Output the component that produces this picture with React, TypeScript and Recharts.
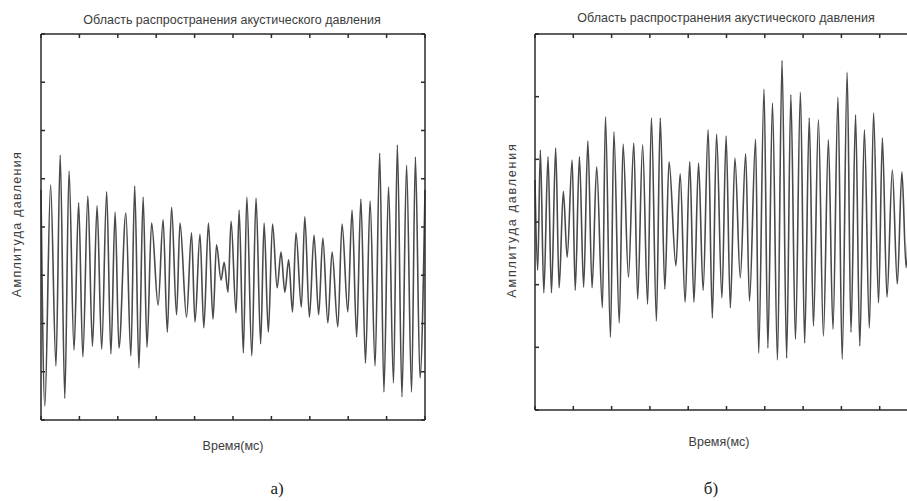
import { Line, LineChart, XAxis, YAxis } from "recharts";

const titleText = "Область распространения акустического давления";
const yLabelText = "Амплитуда давления";
const xLabelText = "Время(мс)";

// panel a) alternating crest / trough readings
const timeA = [
  0, 0.1, 0.25, 0.39, 0.5, 0.62, 0.73, 0.86, 0.98, 1.09, 1.22, 1.34, 1.46, 1.58, 1.71, 1.82, 1.93, 2.03,
  2.21, 2.34, 2.44, 2.55, 2.66, 2.76, 2.88, 3.05, 3.18, 3.29, 3.4, 3.53, 3.62, 3.79, 3.92, 4.01, 4.14,
  4.24, 4.36, 4.48, 4.57, 4.69, 4.77, 4.87, 4.95, 5.08, 5.16, 5.27, 5.36, 5.49, 5.6, 5.72, 5.81, 5.92,
  6.03, 6.15, 6.25, 6.35, 6.45, 6.55, 6.64, 6.78, 6.87, 6.99, 7.11, 7.23, 7.34, 7.47, 7.58, 7.73, 7.84,
  7.99, 8.1, 8.22, 8.33, 8.45, 8.57, 8.7, 8.82, 8.93, 9.05, 9.18, 9.28, 9.4, 9.52, 9.65, 9.75, 9.87, 10
];
const ampA = [
  0.77, -3.71, 0.87, -2.88, 1.49, -3.55, 1.16, -2.55, 0.5, -2.69, 0.64, -2.47, 0.44, -2.53, 0.73, -2.63,
  0.31, -2.51, 0.29, -2.67, 0.85, -2.92, 0.62, -2.49, 0.08, -1.62, 0.15, -2.18, 0.41, -1.82, 0.08, -1.87,
  -0.12, -1.97, -0.15, -2.09, 0.08, -1.91, -0.37, -1.1, -0.73, -1.35, 0.12, -1.78, 0.35, -2.61, 0.62,
  -2.67, 0.6, -2.42, 0.08, -2.18, 0.06, -1.26, -0.52, -1.35, -0.68, -1.76, -0.12, -1.66, 0.21, -1.87,
  -0.17, -1.82, -0.23, -1.99, -0.52, -2.07, 0.06, -1.76, 0.35, -2.28, 0.58, -2.82, 0.54, -2.88, 1.53,
  -3.42, 0.83, -3.23, 1.7, -3.52, 1.28, -3.42, 1.45, -3.13, 0.77
];

// panel б) alternating crest / trough readings
const timeB = [
  0, 0.07, 0.14, 0.23, 0.34, 0.43, 0.54, 0.63, 0.74, 0.84, 0.97, 1.05, 1.16, 1.27, 1.38, 1.49, 1.61, 1.76,
  1.84, 1.97, 2.06, 2.2, 2.3, 2.44, 2.58, 2.68, 2.81, 2.94, 3.04, 3.17, 3.27, 3.39, 3.5, 3.68, 3.79, 3.92,
  4.04, 4.15, 4.27, 4.39, 4.52, 4.63, 4.74, 4.88, 4.99, 5.1, 5.22, 5.36, 5.5, 5.6, 5.76, 5.84, 5.98, 6.08,
  6.2, 6.33, 6.45, 6.57, 6.68, 6.8, 6.93, 7.04, 7.16, 7.27, 7.4, 7.53, 7.66, 7.78, 7.91, 8.02, 8.15, 8.25,
  8.37, 8.48, 8.6, 8.73, 8.84, 8.97, 9.07, 9.19, 9.33, 9.46, 9.58, 9.69, 9.82, 9.92, 10
];
const ampB = [
  0.67, -0.77, 1.15, -1.13, 1.04, -1.13, 1.18, -1.05, 0.49, -0.56, 0.99, -1.09, 1.04, -1.04, 1.29, -1.05,
  0.88, -1.37, 1.68, -1.84, 1.44, -1.61, 1.24, -0.88, 1.26, -1.23, 1.23, -1.31, 1.66, -1.58, 1.66, -1.07,
  0.96, -0.7, 0.77, -1.28, 0.96, -1.28, 0.94, -1.09, 1.47, -1.53, 1.4, -1.21, 1.37, -1.37, 1.02, -0.89,
  1.09, -1.26, 1.32, -2.09, 2.12, -2.01, 1.9, -2.2, 2.58, -2.17, 2.03, -1.87, 2.07, -1.93, 1.66, -1.66,
  1.63, -1.82, 1.31, -1.71, 1.99, -2.19, 2.39, -1.76, 1.71, -1.98, 1.47, -1.69, 1.74, -1.29, 1.34, -1.2,
  0.83, -0.99, 0.8, -0.73, 0.91, -0.69, 0.35
];

const xTicks = [0, 1, 2, 3, 4, 5, 6, 7, 8, 9, 10];
const yTicksA = [-4, -3, -2, -1, 0, 1, 2, 3, 4];
const yTicksB = [-3, -2, -1, 0, 1, 2, 3];

const frame = "#2a2a2a";
const sans = "'Liberation Sans', Arial, sans-serif";
const tickPx = 4;

type Margin = { top: number; right: number; bottom: number; left: number };

type PanelProps = {
  times: number[];
  amps: number[];
  yTicks: number[];
  left: number;
  width: number;
  margin: Margin;
};

const noLabel = () => <g />;

function Panel({ times, amps, yTicks, left, width, margin }: PanelProps) {
  const data = times.map((t, i) => ({ t, v: amps[i] }));
  const yDomain = [yTicks[0], yTicks[yTicks.length - 1]];
  const rightEdge = width - margin.right;

  // bottom axis tick hook: repeats each tick, pointing down, on the top edge
  const topMark = (p: any) => (
    <line x1={p.x} x2={p.x} y1={margin.top} y2={margin.top + tickPx} stroke={frame} strokeWidth={1.5} />
  );
  // left axis tick hook: repeats each tick, pointing left, on the right edge
  const rightMark = (p: any) => (
    <line x1={rightEdge} x2={rightEdge - tickPx} y1={p.y} y2={p.y} stroke={frame} strokeWidth={1.5} />
  );

  const axisProps = {
    mirror: true,
    tickSize: tickPx,
    interval: 0 as const,
    axisLine: { stroke: frame, strokeWidth: 1.5 },
    tickLine: { stroke: frame, strokeWidth: 1.5 }
  };
  return (
    <div style={{ position: "absolute", left, top: 0 }}>
      <LineChart width={width} height={501} data={data} margin={margin}>
        <XAxis dataKey="t" type="number" domain={[0, 10]} ticks={xTicks} tick={topMark} {...axisProps} />
        <XAxis xAxisId="top" orientation="top" type="number" domain={[0, 10]} ticks={xTicks} tick={noLabel} {...axisProps} tickLine={false} />
        <YAxis type="number" domain={yDomain} ticks={yTicks} tick={rightMark} {...axisProps} />
        <YAxis yAxisId="right" orientation="right" type="number" domain={yDomain} ticks={yTicks} tick={noLabel} {...axisProps} tickLine={false} />
        <Line
          dataKey="v"
          type="monotone"
          stroke="#4a4a4a"
          strokeWidth={1.6}
          dot={false}
          activeDot={false}
          isAnimationActive={false}
        />
      </LineChart>
    </div>
  );
}

function Text({ x, y, children, rotate, size = 12.5, spacing = 0, font = sans, color = "#3c3c3c" }: any) {
  return (
    <div
      style={{
        position: "absolute",
        left: x,
        top: y,
        transform: `translate(-50%, -50%)${rotate ? ` rotate(${rotate}deg)` : ""}`,
        whiteSpace: "nowrap",
        fontFamily: font,
        fontSize: size,
        letterSpacing: spacing,
        color,
        lineHeight: 1
      }}
    >
      {children}
    </div>
  );
}

export default function App() {
  return (
    <div style={{ position: "absolute", left: 0, top: 0, width: 907, height: 501, overflow: "hidden", background: "#fff" }}>
      <Panel times={timeA} amps={ampA} yTicks={yTicksA} left={0} width={450} margin={{ top: 34, right: 25, bottom: 81, left: 41 }} />
      <Panel times={timeB} amps={ampB} yTicks={yTicksB} left={460} width={490} margin={{ top: 34, right: 32, bottom: 91, left: 75 }} />

      <Text x={232} y={20}>{titleText}</Text>
      <Text x={17} y={224} rotate={-90} spacing={1.3}>{yLabelText}</Text>
      <Text x={233} y={446}>{xLabelText}</Text>
      <Text x={277} y={488} size={17} font="'Liberation Serif', 'Times New Roman', serif" color="#222">а)</Text>

      <Text x={726} y={18}>{titleText}</Text>
      <Text x={512} y={220} rotate={-90} spacing={1.8}>{yLabelText}</Text>
      <Text x={719} y={442}>{xLabelText}</Text>
      <Text x={711} y={488} size={17} font="'Liberation Serif', 'Times New Roman', serif" color="#222">б)</Text>
    </div>
  );
}
